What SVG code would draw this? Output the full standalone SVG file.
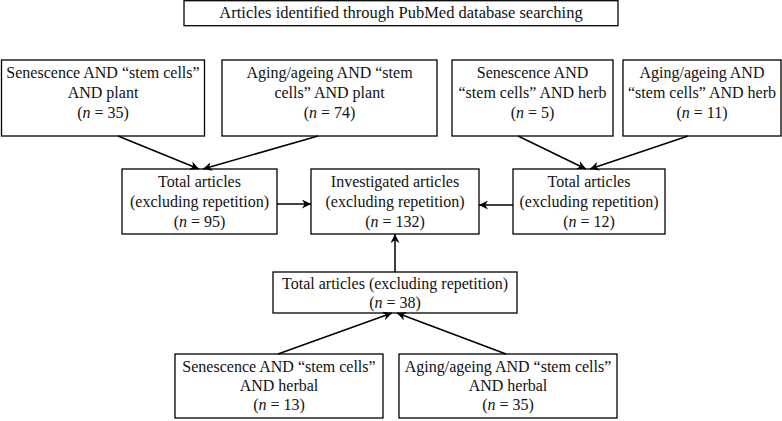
<svg xmlns="http://www.w3.org/2000/svg" width="782" height="421" viewBox="0 0 782 421">
<defs>
<marker id="ah" viewBox="0 0 10 10" refX="10" refY="5" markerWidth="9" markerHeight="9" markerUnits="userSpaceOnUse" orient="auto">
<path d="M0,0 L10,5 L0,10 L3,5 Z" fill="#000"/>
</marker>
</defs>
<style>
.b{fill:#fff;stroke:#000;stroke-width:1.3}
text{font-family:"Liberation Serif","Times New Roman",serif;font-size:16px;fill:#111;text-anchor:middle}
.t{font-size:16.5px}
.c line{stroke:#000;stroke-width:1.5;marker-end:url(#ah)}
</style>
<rect width="782" height="421" fill="#fff"/>
<g id="title"><rect class="b" x="184" y="0.7" width="434" height="25"/><text class="t" x="401" y="18">Articles identified through PubMed database searching</text></g>
<g id="n1"><rect class="b" x="1.5" y="60" width="203" height="76"/><text x="103" y="78">Senescence AND “stem cells”</text><text x="103" y="98">AND plant</text><text x="103" y="118">(<tspan font-style="italic">n</tspan> = 35)</text></g>
<g id="n2"><rect class="b" x="222" y="60" width="215" height="76"/><text x="329.5" y="78">Aging/ageing AND “stem</text><text x="329.5" y="98">cells” AND plant</text><text x="329.5" y="118">(<tspan font-style="italic">n</tspan> = 74)</text></g>
<g id="n3"><rect class="b" x="452" y="60" width="161" height="76"/><text x="532.5" y="78">Senescence AND</text><text x="532.5" y="98">“stem cells” AND herb</text><text x="532.5" y="118">(<tspan font-style="italic">n</tspan> = 5)</text></g>
<g id="n4"><rect class="b" x="623" y="60" width="158" height="76"/><text x="702" y="78">Aging/ageing AND</text><text x="702" y="98">“stem cells” AND herb</text><text x="702" y="118">(<tspan font-style="italic">n</tspan> = 11)</text></g>
<g id="n5"><rect class="b" x="122" y="169" width="155" height="65"/><text x="199.5" y="187">Total articles</text><text x="199.5" y="207">(excluding repetition)</text><text x="199.5" y="227">(<tspan font-style="italic">n</tspan> = 95)</text></g>
<g id="n6"><rect class="b" x="311" y="169" width="168" height="65"/><text x="395" y="187">Investigated articles</text><text x="395" y="207">(excluding repetition)</text><text x="395" y="227">(<tspan font-style="italic">n</tspan> = 132)</text></g>
<g id="n7"><rect class="b" x="513" y="169" width="152" height="65"/><text x="589" y="187">Total articles</text><text x="589" y="207">(excluding repetition)</text><text x="589" y="227">(<tspan font-style="italic">n</tspan> = 12)</text></g>
<g id="n8"><rect class="b" x="273" y="272" width="244" height="41"/><text x="395" y="289">Total articles (excluding repetition)</text><text x="395" y="308">(<tspan font-style="italic">n</tspan> = 38)</text></g>
<g id="n9"><rect class="b" x="175" y="354" width="208" height="64"/><text x="279" y="372">Senescence AND “stem cells”</text><text x="279" y="391">AND herbal</text><text x="279" y="410">(<tspan font-style="italic">n</tspan> = 13)</text></g>
<g id="n10"><rect class="b" x="399" y="354" width="218" height="64"/><text x="508" y="372">Aging/ageing AND “stem cells”</text><text x="508" y="391">AND herbal</text><text x="508" y="410">(<tspan font-style="italic">n</tspan> = 35)</text></g>
<g class="c" id="connectors">
<line x1="118" y1="136" x2="199" y2="169"/>
<line x1="318" y1="136" x2="203" y2="169"/>
<line x1="518" y1="136" x2="586" y2="169"/>
<line x1="688" y1="136" x2="590" y2="169"/>
<line x1="277" y1="204" x2="311" y2="204"/>
<line x1="513" y1="205" x2="479" y2="205"/>
<line x1="395" y1="272" x2="395" y2="234"/>
<line x1="278" y1="354" x2="392" y2="313"/>
<line x1="506" y1="354" x2="397" y2="313"/>
</g>
</svg>
